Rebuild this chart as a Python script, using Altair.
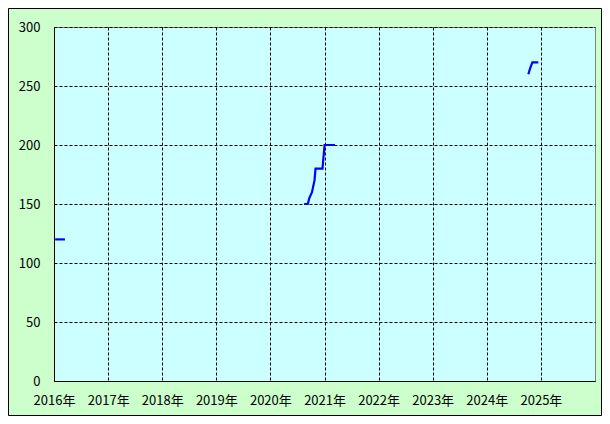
import altair as alt
import pandas as pd

# data
seg_ids = [1, 1,
           2, 2, 2, 2, 2, 2, 2, 2, 2,
           3, 3, 3, 3]
dates = ["2016-01-09", "2016-03-15",
         "2020-08-16", "2020-09-10", "2020-09-20", "2020-10-08", "2020-10-25",
         "2020-11-01", "2020-12-18", "2021-01-01", "2021-03-12",
         "2024-10-08", "2024-10-20", "2024-11-04", "2024-12-14"]
values = [120, 120,
          150, 150, 155, 160, 170, 180, 180, 200, 200,
          260, 265, 270, 270]

y_ticks = [0, 50, 100, 150, 200, 250, 300]
x_ticks = [f"{y}-01-01" for y in range(2016, 2026)]
x_domain = ["2016-01-01", "2026-01-01"]

df = pd.DataFrame({"seg": seg_ids, "date": dates, "value": values})

FONT = "Noto Sans CJK JP"

line = alt.Chart(df).mark_line(color="#0000ff", strokeWidth=2.2, clip=True).encode(
    x=alt.X("date:T",
            scale=alt.Scale(domain=x_domain),
            axis=alt.Axis(values=x_ticks, format="%Y年", labelAngle=0,
                          labelAlign="center", labelPadding=13, tickSize=0,
                          grid=True, gridColor="#000000", gridDash=[3, 2],
                          gridWidth=1, domainColor="#000000", domainWidth=1,
                          labelColor="#000000", labelFont=FONT, labelFontSize=13,
                          title=None)),
    y=alt.Y("value:Q",
            scale=alt.Scale(domain=[0, 300], nice=False),
            axis=alt.Axis(values=y_ticks, labelPadding=14, tickSize=0,
                          grid=True, gridColor="#000000", gridDash=[3, 2],
                          gridWidth=1, domainColor="#000000", domainWidth=1,
                          labelColor="#000000", labelFont=FONT, labelFontSize=13,
                          title=None)),
    detail="seg:N",
)

border = alt.Chart(pd.DataFrame({"a": [0]})).mark_rect(
    fill=None, stroke="#000000", strokeWidth=1, clip=False
).encode(
    x=alt.value(-45.5), x2=alt.value(547.5),
    y=alt.value(-18.5), y2=alt.value(388.5),
)

chart = alt.layer(border, line).properties(
    width=541, height=354,
    autosize=alt.AutoSizeParams(type="none"),
    padding={"left": 46, "top": 19, "right": 7, "bottom": 35},
    background="#ccffcc",
).configure_view(
    fill="#ccffff", stroke="#808080", strokeWidth=1
)

chart.save("out.html", embed_options={"renderer": "svg", "actions": False})
